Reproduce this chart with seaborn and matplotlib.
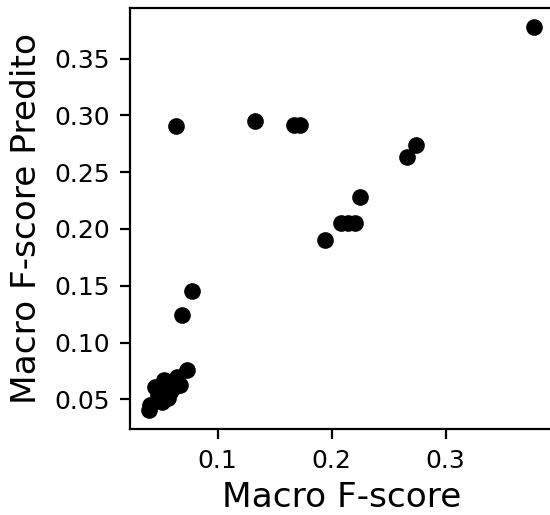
import matplotlib
matplotlib.use("Agg")
import matplotlib.pyplot as plt
import seaborn as sns
import pandas as pd

# macro F-score (real) vs macro F-score predito
macro_f = [0.0733, 0.0674, 0.0645, 0.0587, 0.0528, 0.0455, 0.0514, 0.0397,
           0.0412, 0.0482, 0.0569, 0.0613, 0.0690, 0.0777,
           0.0636, 0.1325, 0.1667, 0.1725,
           0.2741, 0.2665, 0.2245, 0.2081, 0.2147, 0.2209, 0.1944, 0.3777]
macro_f_pred = [0.0758, 0.0626, 0.0697, 0.0567, 0.0670, 0.0611, 0.0479, 0.0406,
                0.0450, 0.0538, 0.0511, 0.0600, 0.1243, 0.1458,
                0.2910, 0.2954, 0.2919, 0.2919,
                0.2743, 0.2634, 0.2278, 0.2057, 0.2057, 0.2057, 0.1905, 0.3777]

df = pd.DataFrame({"Macro F-score": macro_f, "Macro F-score Predito": macro_f_pred})

sns.set_style("ticks")
plt.rcParams['font.family'] = ['DejaVu Sans']
plt.rcParams['text.color'] = 'black'
plt.rcParams['axes.labelcolor'] = 'black'
plt.rcParams['xtick.color'] = 'black'
plt.rcParams['ytick.color'] = 'black'

fig = plt.figure(figsize=(2.75, 2.575), dpi=200)
ax = fig.add_axes([129.5 / 550, 1 - 429.2 / 515, (553.6 - 129.5) / 550, (429.2 - 8.0) / 515])

sns.scatterplot(data=df, x="Macro F-score", y="Macro F-score Predito",
                color="black", s=36, linewidth=0, ax=ax)

ax.set_xticks([0.1, 0.2, 0.3])
ax.set_yticks([0.05, 0.10, 0.15, 0.20, 0.25, 0.30, 0.35])
ax.set_yticklabels(["0.05", "0.10", "0.15", "0.20", "0.25", "0.30", "0.35"])
ax.tick_params(labelsize=9, width=0.8, length=3.5)
ax.set_xlabel("Macro F-score", fontsize=12.4, labelpad=3)
ax.set_ylabel("Macro F-score Predito", fontsize=12.4)
for sp in ax.spines.values():
    sp.set_color("black")
    sp.set_linewidth(0.8)

fig.savefig("out.png", dpi=200)
